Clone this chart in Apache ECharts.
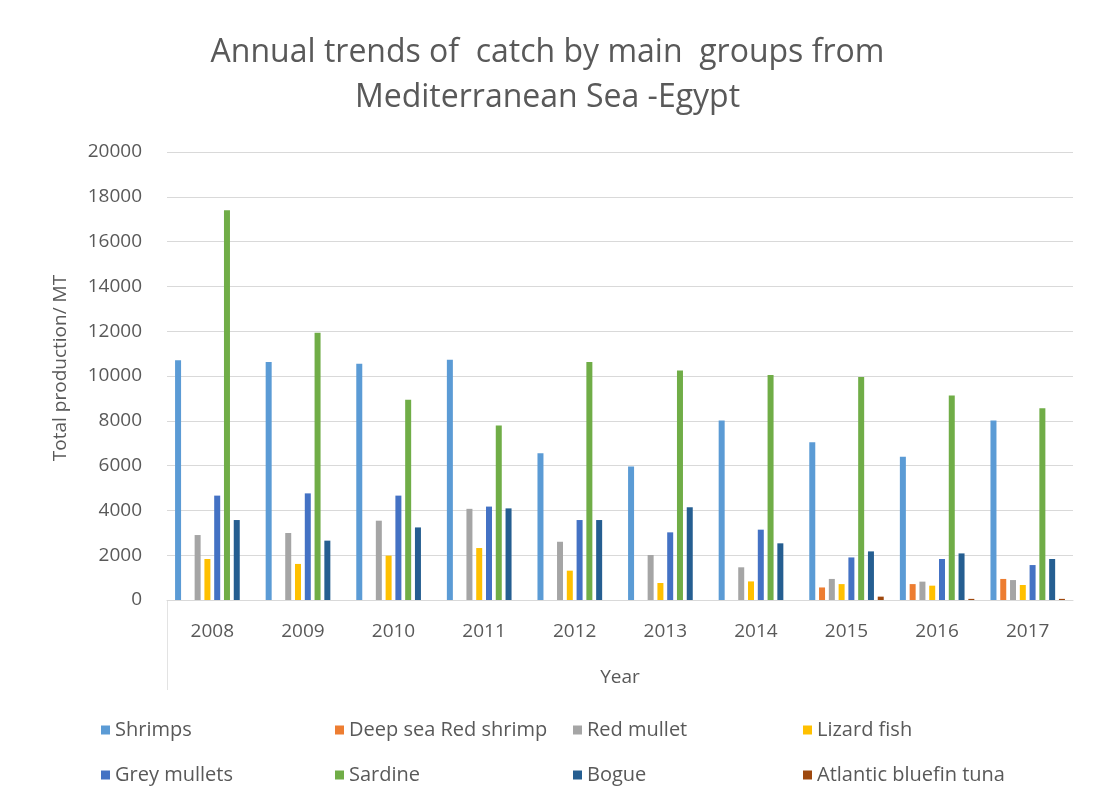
<!DOCTYPE html>
<html>
<head>
<meta charset="utf-8">
<title>Annual trends of catch by main groups</title>
<script src="https://cdn.jsdelivr.net/npm/echarts@6/dist/echarts.min.js"></script>
<style>
  html, body { margin: 0; padding: 0; background: #ffffff; }
  #chart { width: 1095px; height: 806px; }
</style>
</head>
<body>
<div id="chart"></div>
<script>
// Years on the category axis
const years = ['2008', '2009', '2010', '2011', '2012', '2013', '2014', '2015', '2016', '2017'];

// Catch per group, metric tonnes
const shrimps          = [10700, 10620, 10550, 10720, 6550, 5960, 8010, 7040, 6400, 8010];
const deepSeaRedShrimp = [0, 0, 0, 0, 0, 0, 0, 560, 710, 940];
const redMullet        = [2900, 2990, 3540, 4070, 2600, 2010, 1460, 940, 820, 890];
const lizardFish       = [1830, 1610, 1980, 2320, 1310, 760, 830, 710, 640, 670];
const greyMullets      = [4660, 4760, 4660, 4170, 3570, 3020, 3140, 1900, 1830, 1560];
const sardine          = [17400, 11930, 8940, 7790, 10620, 10250, 10050, 9950, 9130, 8560];
const bogue            = [3570, 2650, 3240, 4090, 3570, 4140, 2530, 2170, 2080, 1830];
const bluefinTuna      = [0, 0, 0, 0, 0, 0, 0, 150, 50, 50];

// Value axis ticks
const yTicks = { min: 0, max: 20000, interval: 2000 };

const groups = [
  { name: 'Shrimps',              data: shrimps,          color: '#5B9BD5' },
  { name: 'Deep sea Red shrimp',  data: deepSeaRedShrimp, color: '#ED7D31' },
  { name: 'Red mullet',           data: redMullet,        color: '#A5A5A5' },
  { name: 'Lizard fish',          data: lizardFish,       color: '#FFC000' },
  { name: 'Grey mullets',         data: greyMullets,      color: '#4472C4' },
  { name: 'Sardine',              data: sardine,          color: '#70AD47' },
  { name: 'Bogue',                data: bogue,            color: '#255E91' },
  { name: 'Atlantic bluefin tuna',data: bluefinTuna,      color: '#9E480E' }
];

const FONT = '"Open Sans", Lato, sans-serif';
const TEXT = '#595959';

// Legend laid out as a 4-column grid, two rows
const legendCols = [96, 330, 568, 798];
const legendRows = [715, 760];
const legends = groups.map((g, i) => ({
  data: [g.name],
  left: legendCols[i % 4],
  top: legendRows[Math.floor(i / 4)],
  itemWidth: 9,
  itemHeight: 9,
  icon: 'rect',
  selectedMode: false,
  textStyle: { color: TEXT, fontSize: 20, fontFamily: FONT }
}));

const chart = echarts.init(document.getElementById('chart'), null, { renderer: 'canvas' });

chart.setOption({
  backgroundColor: '#ffffff',
  animation: false,
  title: {
    text: 'Annual trends of  catch by main  groups from\nMediterranean Sea -Egypt',
    left: 'center',
    top: 25,
    textStyle: {
      color: TEXT,
      fontSize: 32,
      fontWeight: 'normal',
      fontFamily: FONT,
      lineHeight: 45
    }
  },
  legend: legends,
  grid: { left: 167, right: 22, top: 152, bottom: 206, containLabel: false },
  // Left edge of the category label band
  graphic: [{
    type: 'line',
    shape: { x1: 167.5, y1: 600, x2: 167.5, y2: 690 },
    style: { stroke: '#e3e3e3', lineWidth: 1 },
    silent: true
  }],
  xAxis: {
    type: 'category',
    data: years,
    name: 'Year',
    nameLocation: 'middle',
    nameGap: 68,
    nameTextStyle: { color: TEXT, fontSize: 19, fontFamily: FONT },
    axisLine: { lineStyle: { color: '#d9d9d9' } },
    axisTick: { show: false },
    axisLabel: { color: TEXT, fontSize: 19, fontFamily: FONT, margin: 22 }
  },
  yAxis: {
    type: 'value',
    min: yTicks.min,
    max: yTicks.max,
    interval: yTicks.interval,
    name: 'Total production/ MT',
    nameLocation: 'middle',
    nameGap: 97,
    nameRotate: 90,
    nameTextStyle: { color: TEXT, fontSize: 19, fontFamily: FONT, padding: [0, 0, 0, 16] },
    axisLine: { show: false },
    axisTick: { show: false },
    axisLabel: {
      color: TEXT, fontSize: 19, fontFamily: FONT, margin: 25,
      formatter: v => String(v)
    },
    splitLine: { lineStyle: { color: '#d9d9d9', width: 1 } }
  },
  series: groups.map(g => ({
    name: g.name,
    type: 'bar',
    data: g.data,
    barWidth: 6,
    barGap: '63%',
    itemStyle: { color: g.color }
  }))
});
</script>
</body>
</html>
